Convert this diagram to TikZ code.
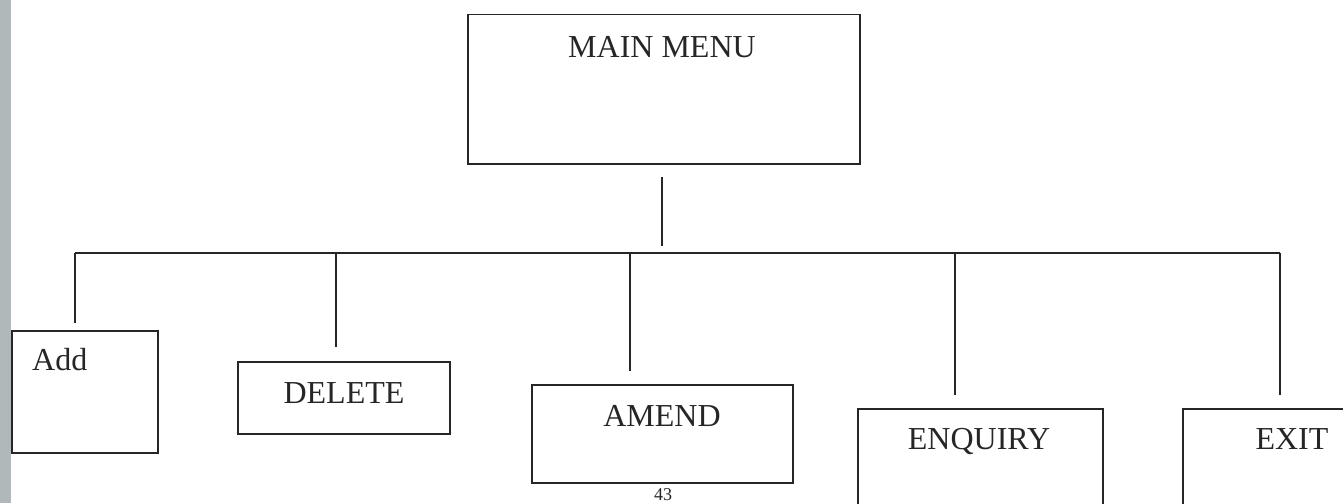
\documentclass[tikz,border=0pt]{standalone}
\usepackage{fontspec}
\setmainfont{Liberation Serif}
\begin{document}
\begin{tikzpicture}[x=1pt,y=-1pt,
  ln/.style={draw=black!85,line width=1.5pt},
  box/.style={ln,rectangle,inner sep=0pt,anchor=north west},
  lbl/.style={font=\fontsize{32}{36}\selectfont,text=black!85,inner sep=0pt,anchor=base},
  pg/.style={font=\fontsize{18}{20}\selectfont,text=black!85,inner sep=0pt,anchor=base}]
\useasboundingbox (0,0) rectangle (1343,503);
\clip (0,0) rectangle (1343,503);
\fill[white] (0,0) rectangle (1343,503);
\fill[color={rgb,255:red,176;green,184;blue,186}] (0,0) rectangle (11,503);
% boxes
\node[box,minimum width=392pt,minimum height=149pt] (main) at (467,14) {};
\node[box,minimum width=146pt,minimum height=122pt] (add) at (11,330) {};
\node[box,minimum width=212pt,minimum height=72pt] (del) at (237,361) {};
\node[box,minimum width=261pt,minimum height=98pt] (amd) at (531,384) {};
\node[box,minimum width=245pt,minimum height=140pt] (enq) at (857,408) {};
\node[box,minimum width=200pt,minimum height=140pt] (ext) at (1182,408) {};
% labels
\node[lbl] (tmain) at (662,57) {MAIN MENU};
\node[lbl,anchor=base west] (tadd) at (32,370) {Add};
\node[lbl] (tdel) at (344,403) {DELETE};
\node[lbl] (tamd) at (662,426) {AMEND};
\node[lbl] (tenq) at (979,449) {ENQUIRY};
\node[lbl] (text) at (1292,449) {EXIT};
\node[pg] (page) at (663,500) {43};
% connector points
\coordinate (mtop) at (662,177);
\coordinate (mbot) at (662,246);
\coordinate (busL) at (75,253);
\coordinate (busR) at (1280,253);
\coordinate (bAdd) at (75,253);   \coordinate (eAdd) at (75,323);
\coordinate (bDel) at (336,253);  \coordinate (eDel) at (336,347);
\coordinate (bAmd) at (630,253);  \coordinate (eAmd) at (630,371);
\coordinate (bEnq) at (955,253);  \coordinate (eEnq) at (955,395);
\coordinate (bExt) at (1280,253); \coordinate (eExt) at (1280,395);
\draw[ln] (mtop) -- (mbot);
\draw[ln] (busL) -- (busR);
\draw[ln] (bAdd) -- (eAdd);
\draw[ln] (bDel) -- (eDel);
\draw[ln] (bAmd) -- (eAmd);
\draw[ln] (bEnq) -- (eEnq);
\draw[ln] (bExt) -- (eExt);
\end{tikzpicture}
\end{document}
